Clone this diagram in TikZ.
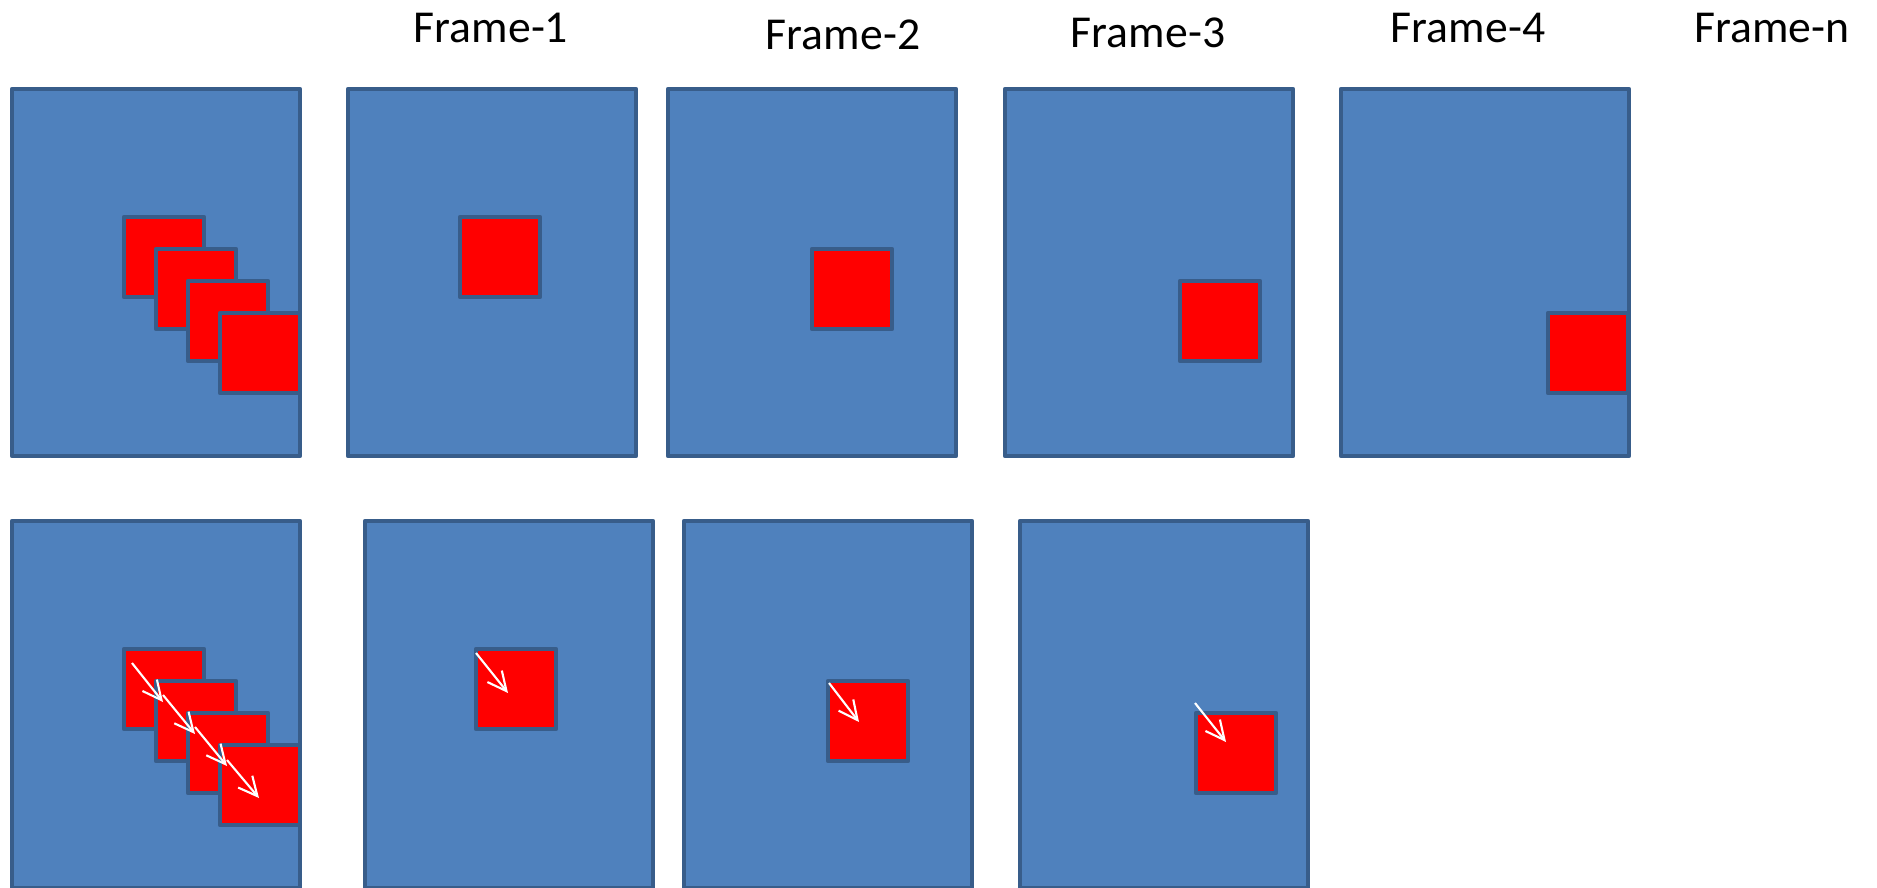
\documentclass[tikz,border=0pt]{standalone}
\usepackage{fontspec}
\setmainfont{Carlito}
\usepackage{tikz}
\usepackage{xcolor}
\usetikzlibrary{arrows.meta}
\definecolor{framefill}{HTML}{4F81BD}
\definecolor{frameborder}{HTML}{385D8A}

\begin{document}
\begin{tikzpicture}[x=0.02cm, y=-0.02cm,
    vidframe/.style={draw=frameborder, fill=framefill, line width=2.7pt, line join=round,
        minimum width=5.76cm, minimum height=7.34cm, anchor=north west, inner sep=0pt, outer sep=0pt},
    target/.style={draw=frameborder, fill=red, line width=2.7pt, line join=round,
        minimum size=1.6cm, anchor=north west, inner sep=0pt, outer sep=0pt},
    motion/.style={draw=white, line width=1.2pt, -{Straight Barb[length=10.8pt, width=10.5pt]}},
    framelabel/.style={font=\fontsize{26}{31}\selectfont, anchor=base}]
        \clip (0,0) rectangle (1877,888);
        % Frame labels
        \node[framelabel] (lab1) at (491,43) {Frame-1};
        \node[framelabel] (lab2) at (843,50) {Frame-2};
        \node[framelabel] (lab3) at (1148,48) {Frame-3};
        \node[framelabel] (lab4) at (1468,43) {Frame-4};
        \node[framelabel] (labn) at (1772,43) {Frame-n};
        % Top row: frames
        \node[vidframe] (f0) at (12,89) {};
        \node[vidframe] (f1) at (348,89) {};
        \node[vidframe] (f2) at (668,89) {};
        \node[vidframe] (f3) at (1005,89) {};
        \node[vidframe] (f4) at (1341,89) {};
        % Top row: all positions in one frame
        \node[target] (f0a) at (124,217) {};
        \node[target] (f0b) at (156,249) {};
        \node[target] (f0c) at (188,281) {};
        \node[target] (f0d) at (220,313) {};
        % Top row: one position per frame
        \node[target] (f1a) at (460,217) {};
        \node[target] (f2a) at (812,249) {};
        \node[target] (f3a) at (1180,281) {};
        \node[target] (f4a) at (1548,313) {};
        % Bottom row: frames
        \node[vidframe] (b0) at (12,521) {};
        \node[vidframe] (b1) at (365,521) {};
        \node[vidframe] (b2) at (684,521) {};
        \node[vidframe] (b3) at (1020,521) {};
        % Bottom row: positions
        \node[target] (b0a) at (124,649) {};
        \node[target] (b0b) at (156,681) {};
        \node[target] (b0c) at (188,713) {};
        \node[target] (b0d) at (220,745) {};
        \node[target] (b1a) at (476,649) {};
        \node[target] (b2a) at (828,681) {};
        \node[target] (b3a) at (1196,713) {};
        % Bottom row: motion vectors
        \draw[motion] ([shift={(8,14)}]b0a.north west) -- ([shift={(39,53)}]b0a.north west);
        \draw[motion] ([shift={(7,14)}]b0b.north west) -- ([shift={(39,53)}]b0b.north west);
        \draw[motion] ([shift={(7,14)}]b0c.north west) -- ([shift={(39,53)}]b0c.north west);
        \draw[motion] ([shift={(7,15)}]b0d.north west) -- ([shift={(39,53)}]b0d.north west);
        \draw[motion] ([shift={(0,4)}]b1a.north west) -- ([shift={(32,44)}]b1a.north west);
        \draw[motion] ([shift={(1,2)}]b2a.north west) -- ([shift={(31,41)}]b2a.north west);
        \draw[motion] ([shift={(-1,-10)}]b3a.north west) -- ([shift={(30,29)}]b3a.north west);
    \end{tikzpicture}
\end{document}
